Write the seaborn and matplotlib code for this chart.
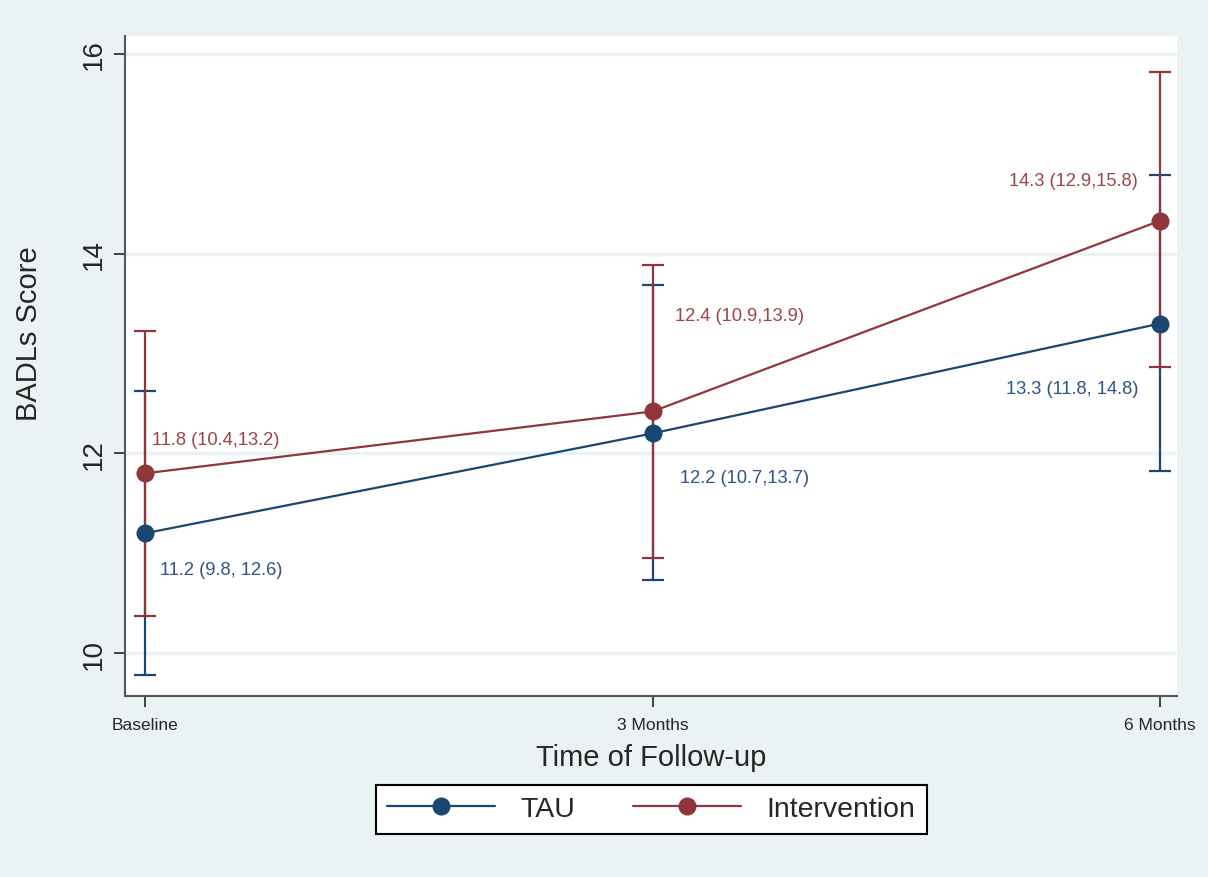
"""Mean BADLs score by time of follow-up, TAU vs Intervention, with 95% CIs."""

import matplotlib.pyplot as plt
import numpy as np
import pandas as pd
import seaborn as sns

# data
timepoints = ["Baseline", "3 Months", "6 Months"]
groups = ["TAU", "Intervention"]
tau_mean = [11.2, 12.2, 13.3]
tau_lo = [9.78, 10.73, 11.82]
tau_hi = [12.62, 13.69, 14.79]
int_mean = [11.8, 12.42, 14.33]
int_lo = [10.37, 10.95, 12.86]
int_hi = [13.23, 13.89, 15.82]
tau_labels = ["11.2 (9.8, 12.6)", "12.2 (10.7,13.7)", "13.3 (11.8, 14.8)"]
int_labels = ["11.8 (10.4,13.2)", "12.4 (10.9,13.9)", "14.3 (12.9,15.8)"]
y_ticks = [10, 12, 14, 16]

BG = "#EAF2F3"
NAVY = "#1A476F"
MAROON = "#90353B"

sns.set_theme(style="white")
plt.rcParams["font.family"] = ["Liberation Sans", "DejaVu Sans"]

df = pd.DataFrame({
    "time": np.tile(np.arange(len(timepoints)), 2),
    "score": tau_mean + int_mean,
    "group": np.repeat(groups, len(timepoints)),
})

fig = plt.figure(figsize=(12.08, 8.78), dpi=100, facecolor=BG)
ax = fig.add_axes([0.1035, 0.2062, 0.8708, 0.7517])
ax.set_facecolor("white")

for y in y_ticks:
    ax.axhline(y, color=BG, lw=2.5, zorder=0)

x = np.arange(len(timepoints))
for mean, lo, hi, col in [(tau_mean, tau_lo, tau_hi, NAVY),
                          (int_mean, int_lo, int_hi, MAROON)]:
    m = np.array(mean)
    err = np.vstack([m - np.array(lo), np.array(hi) - m])
    ax.errorbar(x, m, yerr=err, fmt="none", ecolor=col, elinewidth=1.6,
                capsize=8, capthick=1.6, zorder=2)

sns.lineplot(data=df, x="time", y="score", hue="group", hue_order=groups,
             palette=[NAVY, MAROON], marker="o", markersize=13,
             markeredgewidth=0, linewidth=1.6, ax=ax, zorder=3, legend=False)

# value labels, offsets in pixels
tau_off = [(15, -36, "left"), (27, -44, "left"), (-22, -65, "right")]
int_off = [(7, 34, "left"), (22, 96, "left"), (-22, 40, "right")]
for i in range(len(timepoints)):
    dx, dy, ha = tau_off[i]
    ax.annotate(tau_labels[i], (x[i], tau_mean[i]), xytext=(dx, dy),
                textcoords="offset pixels", ha=ha, va="center",
                fontsize=13.2, color="#2F5585")
    dx, dy, ha = int_off[i]
    ax.annotate(int_labels[i], (x[i], int_mean[i]), xytext=(dx, dy),
                textcoords="offset pixels", ha=ha, va="center",
                fontsize=13.2, color="#9A4646")

ax.set_xlim(-0.04, 2.033)
ax.set_ylim(9.57, 16.18)
ax.set_xticks(x)
ax.set_xticklabels(timepoints, fontsize=12.5)
ax.set_yticks(y_ticks)
ax.set_yticklabels([str(t) for t in y_ticks], fontsize=20, rotation=90,
                   va="center")
ax.tick_params(axis="both", direction="out", length=8, width=1.3,
               color="#333333", left=True, bottom=True)
ax.tick_params(axis="y", pad=5)
ax.tick_params(axis="x", pad=7)
ax.set_xlabel("Time of Follow-up", fontsize=21, labelpad=8)
ax.set_ylabel("BADLs Score", fontsize=21)
ax.yaxis.set_label_coords(-0.078, 0.55)

for s in ["top", "right"]:
    ax.spines[s].set_visible(False)
for s in ["left", "bottom"]:
    ax.spines[s].set_color("#555555")
    ax.spines[s].set_linewidth(1.5)

handles = [plt.Line2D([], [], color=c, marker="o", markersize=13,
                      markeredgewidth=0, lw=1.6) for c in [NAVY, MAROON]]
leg = fig.legend(handles, groups, loc="center", bbox_to_anchor=(0.539, 0.077),
                 ncol=2, fontsize=20.5, frameon=True, fancybox=False,
                 handlelength=3.8, columnspacing=2.0, handletextpad=0.9,
                 borderpad=0.4, edgecolor="black", facecolor="white",
                 framealpha=1)
leg.get_frame().set_linewidth(1.5)

fig.savefig("out.png", dpi=100, facecolor=BG)
